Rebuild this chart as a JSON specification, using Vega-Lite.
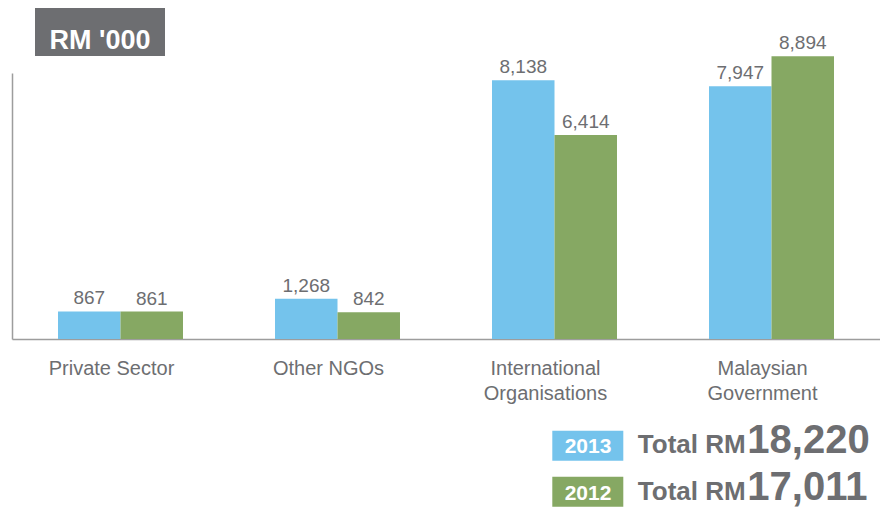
{
  "$schema": "https://vega.github.io/schema/vega-lite/v6.json",
  "width": 868,
  "height": 266,
  "autosize": "none",
  "padding": {"left": 12, "top": 73, "right": 0, "bottom": 172},
  "background": "white",
  "config": {"view": {"stroke": null}, "font": "Liberation Sans"},
  "layer": [
    {
      "data": {"values": [
        {"category": "Private Sector", "year": "2013", "value": 867},
        {"category": "Private Sector", "year": "2012", "value": 861},
        {"category": "Other NGOs", "year": "2013", "value": 1268},
        {"category": "Other NGOs", "year": "2012", "value": 842},
        {"category": "International Organisations", "year": "2013", "value": 8138},
        {"category": "International Organisations", "year": "2012", "value": 6414},
        {"category": "Malaysian Government", "year": "2013", "value": 7947},
        {"category": "Malaysian Government", "year": "2012", "value": 8894}
      ]},
      "encoding": {
        "x": {
          "field": "category", "type": "nominal", "sort": null,
          "scale": {"paddingInner": 0.424, "paddingOuter": 0.212},
          "axis": {
            "title": null, "ticks": false, "grid": false,
            "domainColor": "#9d9d9d", "domainWidth": 1.5,
            "labelColor": "#6d6e71", "labelFontSize": 20, "labelFont": "Liberation Sans",
            "labelAngle": 0, "labelPadding": 35, "labelBaseline": "alphabetic",
            "labelLineHeight": 25.5, "labelLimit": 0, "labelOffset": -9,
            "labelExpr": "datum.label == 'International Organisations' || datum.label == 'Malaysian Government' ? split(datum.label, ' ') : datum.label"
          }
        },
        "xOffset": {"field": "year", "type": "nominal", "sort": ["2013", "2012"], "scale": {"paddingInner": 0, "paddingOuter": 0}},
        "y": {
          "field": "value", "type": "quantitative",
          "scale": {"domain": [0, 8365], "nice": false, "zero": true},
          "axis": {"title": null, "labels": false, "ticks": false, "grid": false, "domainColor": "#9d9d9d", "domainWidth": 1.5}
        }
      },
      "layer": [
        {
          "mark": {"type": "bar"},
          "encoding": {
            "color": {"field": "year", "type": "nominal", "scale": {"domain": ["2013", "2012"], "range": ["#74C3EC", "#86A863"]}, "legend": null}
          }
        },
        {
          "mark": {"type": "text", "dy": -7, "fontSize": 19, "color": "#6d6e71", "baseline": "alphabetic"},
          "encoding": {"text": {"field": "value", "type": "quantitative", "format": ","}}
        }
      ]
    },
    {
      "data": {"values": [{"label": "RM '000"}]},
      "layer": [
        {
          "mark": {"type": "rect", "color": "#6d6e71"},
          "encoding": {
            "x": {"datum": 23, "type": "quantitative", "scale": {"domain": [0, 868], "nice": false, "zero": false}, "axis": null},
            "x2": {"datum": 153},
            "y": {"datum": 10409, "type": "quantitative", "scale": {"domain": [0, 8365], "nice": false, "zero": false}, "axis": null},
            "y2": {"datum": 8899}
          }
        },
        {
          "mark": {"type": "text", "color": "white", "fontSize": 27, "fontWeight": "bold", "baseline": "alphabetic", "align": "center"},
          "encoding": {
            "x": {"datum": 88, "type": "quantitative"},
            "y": {"datum": 9120, "type": "quantitative"},
            "text": {"field": "label"}
          }
        }
      ]
    },
    {
      "data": {"values": [{"year": "2013", "total": 18220}, {"year": "2012", "total": 17011}]},
      "encoding": {
        "y": {
          "field": "year", "type": "nominal", "sort": ["2013", "2012"],
          "scale": {"type": "band", "range": [357.7, 433.7], "paddingInner": 0.348, "paddingOuter": 0},
          "axis": null
        }
      },
      "layer": [
        {
          "mark": {"type": "rect"},
          "encoding": {
            "x": {"datum": 540.3, "type": "quantitative", "scale": {"domain": [0, 868], "nice": false, "zero": false}, "axis": null},
            "x2": {"datum": 611.3},
            "color": {"field": "year", "type": "nominal", "legend": null}
          }
        },
        {
          "mark": {"type": "text", "color": "white", "fontSize": 21, "fontWeight": "bold", "align": "center", "baseline": "alphabetic", "dy": 7.8},
          "encoding": {
            "x": {"datum": 576, "type": "quantitative"},
            "text": {"field": "year"}
          }
        },
        {
          "mark": {"type": "text", "text": "Total RM", "color": "#6d6e71", "fontSize": 26, "fontWeight": "bold", "align": "right", "baseline": "alphabetic", "dy": 7.8},
          "encoding": {
            "x": {"datum": 733.7, "type": "quantitative"}
          }
        },
        {
          "mark": {"type": "text", "color": "#6d6e71", "fontSize": 40, "fontWeight": "bold", "align": "left", "baseline": "alphabetic", "dy": 7.8},
          "encoding": {
            "x": {"datum": 735.3, "type": "quantitative"},
            "text": {"field": "total", "type": "quantitative", "format": ","}
          }
        }
      ]
    }
  ],
  "resolve": {"scale": {"x": "independent", "y": "independent"}}
}
